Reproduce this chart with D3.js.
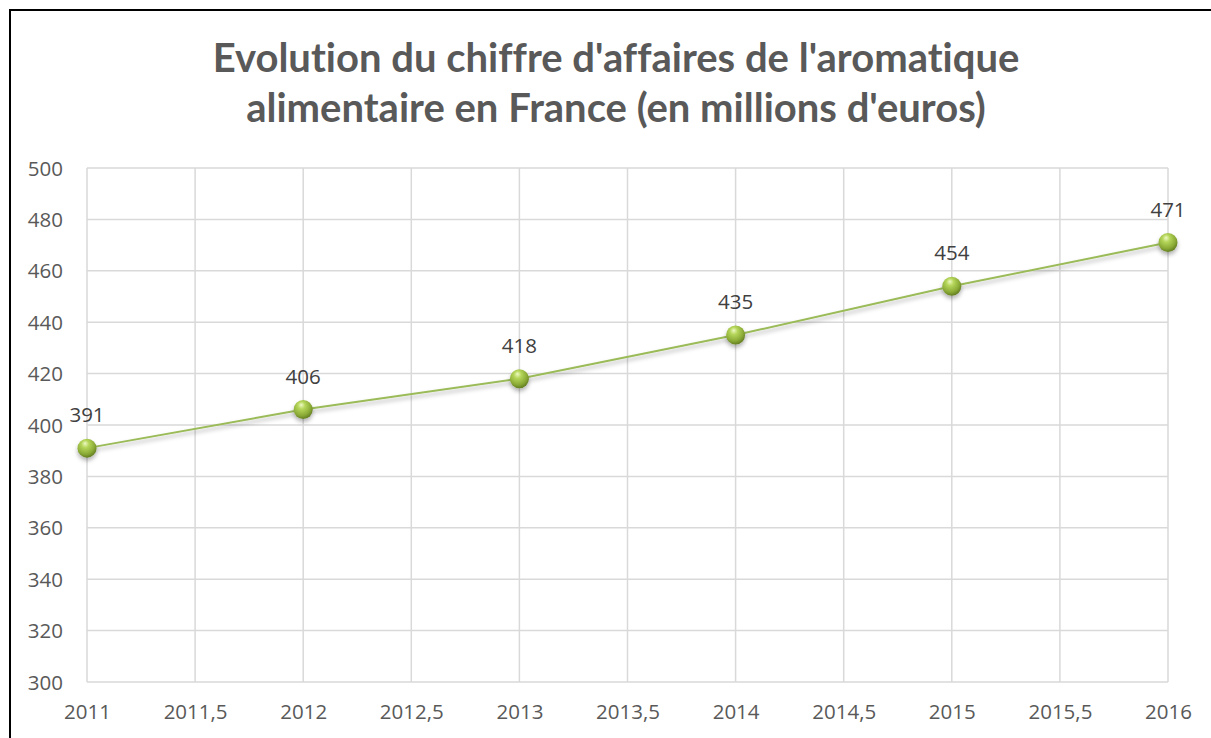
<!DOCTYPE html>
<html>
<head>
<meta charset="utf-8">
<script src="https://cdn.jsdelivr.net/npm/d3@7"></script>
<style>
  body { margin: 0; background: #fff; }
  svg { display: block; }
  text { font-variant-ligatures: none; }
</style>
</head>
<body>
<script>
// data
var years = [2011, 2012, 2013, 2014, 2015, 2016];
var revenue = [391, 406, 418, 435, 454, 471];
var xTicks = [2011, 2011.5, 2012, 2012.5, 2013, 2013.5, 2014, 2014.5, 2015, 2015.5, 2016];
var yTicks = [300, 320, 340, 360, 380, 400, 420, 440, 460, 480, 500];
var titleLines = ["Evolution du chiffre d'affaires de l'aromatique",
                  "alimentaire en France (en millions d'euros)"];

var W = 1211, H = 738;
var plot = {left: 87, right: 1168, top: 168, bottom: 682};

var svg = d3.select("body").append("svg")
    .attr("width", W)
    .attr("height", H);

var defs = svg.append("defs");

// sphere look for the markers
var grad = defs.append("radialGradient")
    .attr("id", "ball")
    .attr("cx", "42%").attr("cy", "35%").attr("r", "65%")
    .attr("fx", "40%").attr("fy", "25%");
grad.append("stop").attr("offset", "0%").attr("stop-color", "#eef9c4");
grad.append("stop").attr("offset", "30%").attr("stop-color", "#b5d65a");
grad.append("stop").attr("offset", "75%").attr("stop-color", "#8aaa36");
grad.append("stop").attr("offset", "100%").attr("stop-color", "#647f22");

var shadow = defs.append("filter")
    .attr("id", "shadow")
    .attr("x", "-20%").attr("y", "-20%").attr("width", "140%").attr("height", "160%");
shadow.append("feDropShadow")
    .attr("dx", 0).attr("dy", 3).attr("stdDeviation", 2)
    .attr("flood-color", "#000").attr("flood-opacity", 0.3);

// outer frame
svg.append("rect")
    .attr("x", 10).attr("y", 10)
    .attr("width", W + 20).attr("height", H + 20)
    .attr("fill", "#fff")
    .attr("stroke", "#000")
    .attr("stroke-width", 2);

var x = d3.scaleLinear().domain([2011, 2016]).range([plot.left, plot.right]);
var y = d3.scaleLinear().domain([300, 500]).range([plot.bottom, plot.top]);

// title
var title = svg.append("g")
    .attr("font-family", "Lato, 'Open Sans', sans-serif")
    .attr("font-weight", "bold")
    .attr("font-size", 40)
    .attr("fill", "#595959")
    .attr("text-anchor", "middle");
title.selectAll("text")
    .data(titleLines)
    .enter().append("text")
    .attr("x", 616)
    .attr("y", function (d, i) { return 72 + i * 50; })
    .text(function (d) { return d; });
// squeeze to the reference width
var targetW = [810, 756];
title.selectAll("text").each(function (d, i) {
    var len = this.getComputedTextLength();
    if (len > targetW[i]) {
        d3.select(this).attr("textLength", targetW[i]).attr("lengthAdjust", "spacingAndGlyphs");
    }
});

// gridlines
var grid = svg.append("g")
    .attr("stroke", "#d9d9d9")
    .attr("stroke-width", 1.5);
grid.selectAll(".h")
    .data(yTicks)
    .enter().append("line")
    .attr("x1", plot.left).attr("x2", plot.right)
    .attr("y1", function (d) { return y(d); })
    .attr("y2", function (d) { return y(d); });
grid.selectAll(".v")
    .data(xTicks)
    .enter().append("line")
    .attr("y1", plot.top).attr("y2", plot.bottom)
    .attr("x1", function (d) { return x(d); })
    .attr("x2", function (d) { return x(d); });

// axes (labels only)
var fmt = function (d) { return String(d).replace(".", ","); };

var yAxis = svg.append("g")
    .attr("transform", "translate(" + (plot.left - 24) + ",0)")
    .call(d3.axisLeft(y).tickValues(yTicks).tickSize(0).tickPadding(0));
var xAxis = svg.append("g")
    .attr("transform", "translate(0," + (plot.bottom + 22) + ")")
    .call(d3.axisBottom(x).tickValues(xTicks).tickSize(0).tickPadding(0).tickFormat(fmt));

[yAxis, xAxis].forEach(function (ax) {
    ax.select(".domain").remove();
    ax.selectAll("text")
        .attr("font-family", "'Open Sans', sans-serif")
        .attr("font-size", 20.5)
        .attr("fill", "#595959");
});
yAxis.selectAll("text").attr("dy", "0.35em");
xAxis.selectAll("text").attr("dy", "0.71em");

// series line
var line = d3.line()
    .x(function (d, i) { return x(years[i]); })
    .y(function (d) { return y(d); });

svg.append("path")
    .datum(revenue)
    .attr("d", line)
    .attr("fill", "none")
    .attr("stroke", "#9bbb59")
    .attr("stroke-width", 2)
    .attr("filter", "url(#shadow)");

// markers
svg.selectAll(".pt")
    .data(revenue)
    .enter().append("circle")
    .attr("class", "pt")
    .attr("cx", function (d, i) { return x(years[i]); })
    .attr("cy", function (d) { return y(d); })
    .attr("r", 9.5)
    .attr("fill", "url(#ball)")
    .attr("filter", "url(#shadow)");

// data labels
svg.selectAll(".lbl")
    .data(revenue)
    .enter().append("text")
    .attr("class", "lbl")
    .attr("x", function (d, i) { return x(years[i]); })
    .attr("y", function (d) { return y(d) - 26; })
    .attr("text-anchor", "middle")
    .attr("font-family", "'Open Sans', sans-serif")
    .attr("font-size", 20.5)
    .attr("fill", "#404040")
    .text(function (d) { return d; });
</script>
</body>
</html>
